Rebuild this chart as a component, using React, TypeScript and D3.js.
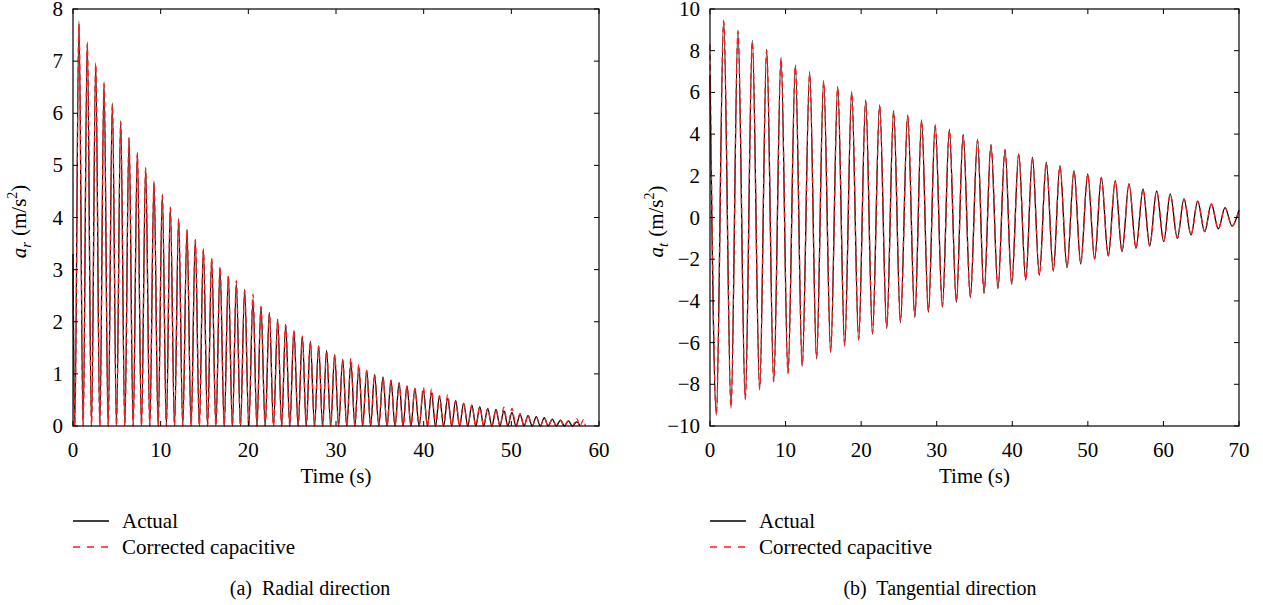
import React from "react";
import * as d3 from "d3";

// radial direction: peak times, trough times (troughs sit on 0) and peak heights
const radialPeakTime = [
  0.68, 1.63, 2.59, 3.54, 4.49, 5.44, 6.39, 7.34, 8.29, 9.24,
  10.19, 11.1, 12.05, 13.0, 13.95, 14.87, 15.82, 16.77, 17.72, 18.63,
  19.58, 20.53, 21.44, 22.4, 23.35, 24.26, 25.2, 26.16, 27.07, 28.02,
  28.93, 29.85, 30.76, 31.7, 32.6, 33.5, 34.4, 35.36, 36.27, 37.2,
  38.1, 39.0, 39.96, 40.9, 41.8, 42.74, 43.65, 44.56, 45.5, 46.4,
  47.3, 48.25, 49.16, 50.07, 51.0, 51.9, 52.85, 53.76, 54.67, 55.6,
  56.5, 57.45, 58.2,
];
const radialTroughTime = [
  0.2, 1.15, 2.11, 3.06, 4.01, 4.96, 5.91, 6.86, 7.81, 8.76,
  9.71, 10.65, 11.58, 12.52, 13.47, 14.41, 15.35, 16.3, 17.25, 18.18,
  19.1, 20.05, 20.98, 21.92, 22.87, 23.8, 24.73, 25.68, 26.61, 27.55,
  28.47, 29.39, 30.3, 31.23, 32.15, 33.05, 33.95, 34.88, 35.82, 36.73,
  37.65, 38.55, 39.48, 40.43, 41.35, 42.27, 43.2, 44.1, 45.03, 45.95,
  46.85, 47.78, 48.7, 49.6, 50.53, 51.45, 52.38, 53.3, 54.2, 55.13,
  56.05, 56.97, 57.85, 58.45,
];
const radialActualPeak = [
  7.77, 7.37, 6.97, 6.6, 6.2, 5.86, 5.54, 5.25, 4.96, 4.7,
  4.45, 4.21, 3.98, 3.77, 3.58, 3.4, 3.2, 3.04, 2.87, 2.74,
  2.62, 2.44, 2.3, 2.18, 2.05, 1.95, 1.83, 1.73, 1.63, 1.54,
  1.45, 1.37, 1.28, 1.22, 1.14, 1.07, 0.99, 0.94, 0.88, 0.83,
  0.77, 0.72, 0.68, 0.63, 0.57, 0.53, 0.49, 0.44, 0.4, 0.37,
  0.34, 0.32, 0.29, 0.26, 0.22, 0.2, 0.18, 0.16, 0.13, 0.11,
  0.1, 0.08,
];
const radialCorrectedPeak = [
  7.72, 7.33, 6.94, 6.57, 6.17, 5.84, 5.52, 5.23, 4.94, 4.68,
  4.43, 4.19, 3.97, 3.76, 3.57, 3.39, 3.22, 3.05, 2.89, 2.79,
  2.6, 2.53, 2.29, 2.17, 2.04, 1.94, 1.82, 1.72, 1.62, 1.53,
  1.44, 1.36, 1.27, 1.3, 1.18, 1.06, 0.98, 0.93, 0.87, 0.82,
  0.76, 0.71, 0.74, 0.71, 0.58, 0.6, 0.48, 0.43, 0.4, 0.37,
  0.33, 0.31, 0.36, 0.34, 0.24, 0.2, 0.17, 0.15, 0.13, 0.11,
  0.1, 0.14, 0.12,
];
const radialStart = [3.3, 3.2]; // actual, corrected at t = 0

// tangential direction: alternating extrema
const tangentialTime = [
  0, 0.84, 1.81, 2.78, 3.7, 4.67, 5.6, 6.57, 7.5, 8.43,
  9.4, 10.32, 11.3, 12.2, 13.19, 14.1, 15.04, 15.97, 16.9, 17.82,
  18.75, 19.67, 20.6, 21.5, 22.45, 23.38, 24.3, 25.2, 26.16, 27.1,
  28.0, 28.9, 29.8, 30.75, 31.67, 32.6, 33.5, 34.45, 35.4, 36.26,
  37.18, 38.1, 39.04, 39.92, 40.85, 41.78, 42.66, 43.58, 44.5, 45.43,
  46.3, 47.24, 48.17, 49.05, 49.98, 50.9, 51.78, 52.7, 53.63, 54.52,
  55.45, 56.37, 57.3, 58.18, 59.1, 60.04, 60.9, 61.84, 62.72, 63.65,
  64.53, 65.46, 66.34, 67.26, 68.15, 69.08, 70.0,
];
const tangentialActual = [
  6.8, -9.47, 9.47, -9.15, 8.99, -8.75, 8.51, -8.27, 8.07, -7.9,
  7.68, -7.5, 7.31, -7.15, 7.0, -6.79, 6.56, -6.47, 6.27, -6.16,
  6.04, -5.88, 5.64, -5.59, 5.4, -5.32, 5.12, -5.04, 4.92, -4.79,
  4.68, -4.55, 4.44, -4.3, 4.22, -4.08, 3.99, -3.84, 3.75, -3.64,
  3.51, -3.41, 3.27, -3.2, 3.05, -3.0, 2.89, -2.77, 2.65, -2.57,
  2.49, -2.41, 2.25, -2.23, 2.09, -2.0, 1.93, -1.85, 1.77, -1.64,
  1.62, -1.48, 1.37, -1.37, 1.27, -1.16, 1.13, -1.0, 0.89, -0.84,
  0.79, -0.68, 0.65, -0.55, 0.47, -0.41, 0.36,
];
const tangentialCorrected = [
  8.3, -9.4, 9.42, -9.08, 8.93, -8.69, 8.45, -8.2, 8.02, -7.84,
  7.62, -7.44, 7.24, -7.08, 6.86, -6.72, 6.5, -6.41, 6.21, -6.1,
  5.97, -5.82, 5.58, -5.52, 5.34, -5.26, 5.06, -4.98, 4.86, -4.73,
  4.62, -4.49, 4.38, -4.25, 4.16, -4.02, 3.94, -3.79, 3.7, -3.59,
  3.46, -3.36, 3.22, -3.15, 3.01, -2.95, 2.85, -2.73, 2.61, -2.53,
  2.45, -2.37, 2.22, -2.19, 2.06, -1.97, 1.9, -1.82, 1.74, -1.62,
  1.59, -1.46, 1.35, -1.35, 1.25, -1.14, 1.11, -0.98, 0.88, -0.83,
  0.78, -0.67, 0.64, -0.54, 0.46, -0.4, 0.36,
];

const radialXTicks = [0, 10, 20, 30, 40, 50, 60];
const radialYTicks = [0, 1, 2, 3, 4, 5, 6, 7, 8];
const tangentialXTicks = [0, 10, 20, 30, 40, 50, 60, 70];
const tangentialYTicks = [-10, -8, -6, -4, -2, 0, 2, 4, 6, 8, 10];

const FONT = "'Liberation Serif', 'Times New Roman', serif";
const FS = 21;
const TICK = 5;
const DASH = "6,4";
const fmt = d3.format("d");

type Pt = [number, number];

function radialSeries(start: number, peaks: number[]): Pt[] {
  const pts: Pt[] = [[0, start]];
  peaks.forEach((v, i) => {
    pts.push([radialTroughTime[i], 0]);
    pts.push([radialPeakTime[i], v]);
  });
  pts.push([radialTroughTime[peaks.length], 0]);
  return pts;
}

function zip(ts: number[], vs: number[]): Pt[] {
  return vs.map((v, i) => [ts[i], v] as Pt);
}

interface PanelProps {
  left: number;
  right: number;
  xDomain: [number, number];
  yDomain: [number, number];
  xTicks: number[];
  yTicks: number[];
  actual: Pt[];
  corrected: Pt[];
  sub: string;
  caption: string;
  captionX: number;
}

const TOP = 9;
const BOTTOM = 426;

function Panel(p: PanelProps) {
  const x = d3.scaleLinear().domain(p.xDomain).range([p.left, p.right]);
  const y = d3.scaleLinear().domain(p.yDomain).range([BOTTOM, TOP]);
  const line = d3
    .line<Pt>()
    .x((d) => x(d[0]))
    .y((d) => y(d[1]))
    .curve(d3.curveMonotoneX);
  const midX = (p.left + p.right) / 2;
  const midY = (TOP + BOTTOM) / 2;

  return (
    <g fontFamily={FONT} fontSize={FS} fill="#000">
      <path d={line(p.actual) || ""} fill="none" stroke="#000" strokeWidth={1.3} />
      <path
        d={line(p.corrected) || ""}
        fill="none"
        stroke="#ff1a1a"
        strokeWidth={1.3}
        strokeDasharray={DASH}
      />
      <rect
        x={p.left}
        y={TOP}
        width={p.right - p.left}
        height={BOTTOM - TOP}
        fill="none"
        stroke="#000"
        strokeWidth={1.2}
      />
      {p.xTicks.map((t) => (
        <g key={"x" + t}>
          <line x1={x(t)} x2={x(t)} y1={BOTTOM} y2={BOTTOM - TICK} stroke="#000" />
          <line x1={x(t)} x2={x(t)} y1={TOP} y2={TOP + TICK} stroke="#000" />
          <text x={x(t)} y={BOTTOM + 31} textAnchor="middle">
            {fmt(t)}
          </text>
        </g>
      ))}
      {p.yTicks.map((t) => (
        <g key={"y" + t}>
          <line x1={p.left} x2={p.left + TICK} y1={y(t)} y2={y(t)} stroke="#000" />
          <line x1={p.right} x2={p.right - TICK} y1={y(t)} y2={y(t)} stroke="#000" />
          <text x={p.left - 10} y={y(t) + 7} textAnchor="end">
            {fmt(t)}
          </text>
        </g>
      ))}
      <text x={midX} y={BOTTOM + 57} textAnchor="middle">
        Time (s)
      </text>
      <text
        transform={`translate(${p.left - 47},${midY + 4}) rotate(-90)`}
        textAnchor="middle"
      >
        <tspan fontStyle="italic">a</tspan>
        <tspan fontStyle="italic" fontSize={15} dy={5}>
          {p.sub}
        </tspan>
        <tspan dy={-5} dx={6}>
          (m/s
        </tspan>
        <tspan fontSize={14} dy={-9}>
          2
        </tspan>
        <tspan dy={9}>)</tspan>
      </text>
      <line x1={p.left} x2={p.left + 36} y1={521} y2={521} stroke="#000" strokeWidth={1.3} />
      <text x={p.left + 49} y={528}>
        Actual
      </text>
      <line
        x1={p.left}
        x2={p.left + 35}
        y1={547}
        y2={547}
        stroke="#ff1a1a"
        strokeWidth={1.3}
        strokeDasharray="7,7"
      />
      <text x={p.left + 49} y={554}>
        Corrected capacitive
      </text>
      <text x={p.captionX} y={595} textAnchor="middle" fontSize={20} style={{ whiteSpace: "pre" }}>
        {p.caption}
      </text>
    </g>
  );
}

export default function App() {
  return (
    <svg
      width={1263}
      height={605}
      style={{ position: "absolute", left: 0, top: 0, background: "#fff" }}
    >
      <Panel
        left={73}
        right={599}
        xDomain={[0, 60]}
        yDomain={[0, 8]}
        xTicks={radialXTicks}
        yTicks={radialYTicks}
        actual={radialSeries(radialStart[0], radialActualPeak)}
        corrected={radialSeries(radialStart[1], radialCorrectedPeak)}
        sub="r"
        caption="(a)  Radial direction"
        captionX={310}
      />
      <Panel
        left={710}
        right={1239}
        xDomain={[0, 70]}
        yDomain={[-10, 10]}
        xTicks={tangentialXTicks}
        yTicks={tangentialYTicks}
        actual={zip(tangentialTime, tangentialActual)}
        corrected={zip(tangentialTime, tangentialCorrected)}
        sub="t"
        caption="(b)  Tangential direction"
        captionX={940}
      />
    </svg>
  );
}
